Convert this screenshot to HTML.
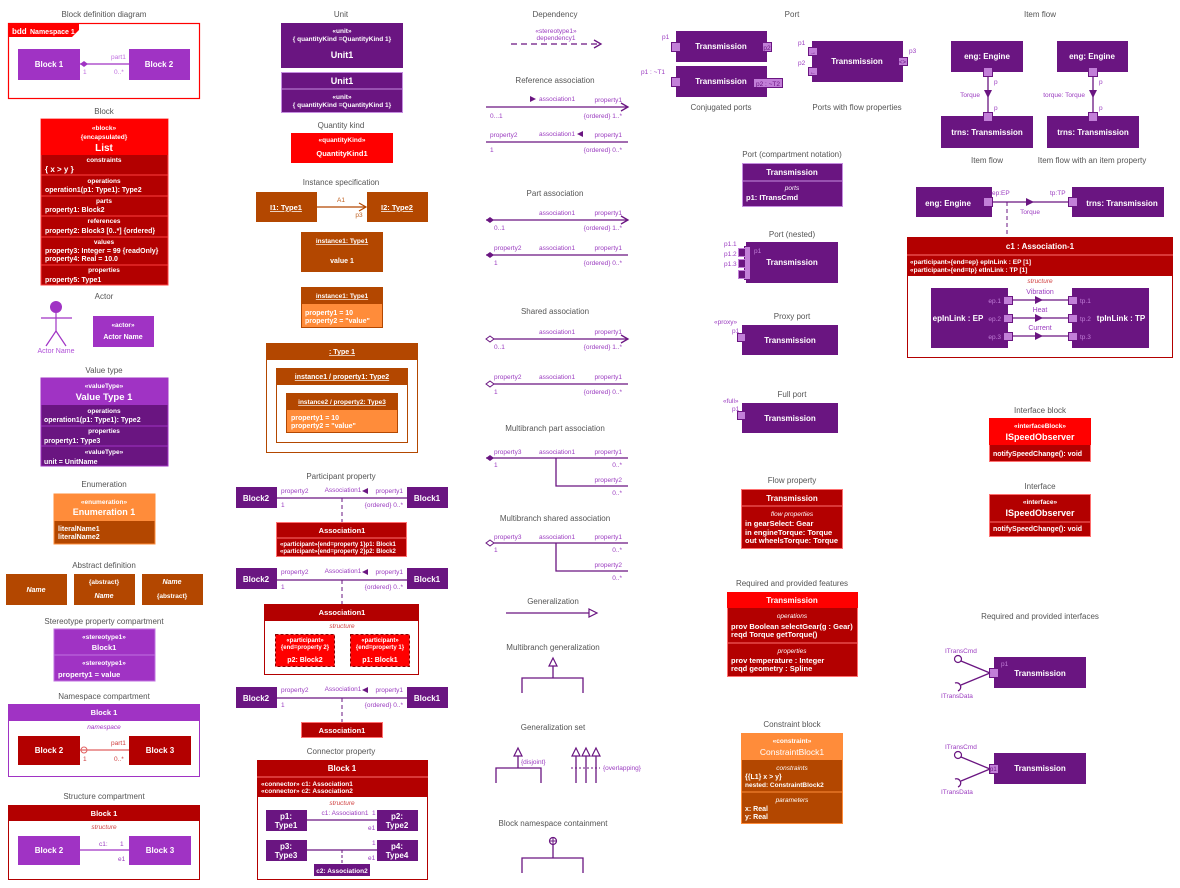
<!DOCTYPE html>
<html><head><meta charset="utf-8"><style>
html,body{margin:0;padding:0;background:#fff;width:1180px;height:888px;overflow:hidden}
svg{display:block}
text{font-family:"Liberation Sans",sans-serif}
.t{font-size:8px;fill:#555;text-anchor:middle}
.w{font-size:8px;fill:#fff;text-anchor:middle;font-weight:bold}
.wl{font-size:8px;fill:#fff;font-weight:bold}
.ws{font-size:6.5px;fill:#fff;text-anchor:middle;font-weight:bold}
.wi{font-size:6.5px;fill:#fff;text-anchor:middle;font-style:italic}
.ri{font-size:6.5px;fill:#d04040;text-anchor:middle;font-style:italic}
.l{font-size:6.5px;fill:#9b3cc0}
.lr{font-size:6.5px;fill:#9b3cc0;text-anchor:end}
.lm{font-size:6.5px;fill:#9b3cc0;text-anchor:middle}
.u{text-decoration:underline}
.ln{stroke:#6a1581;stroke-width:1.3;fill:none}
</style></head><body>
<svg width="1180" height="888" viewBox="0 0 1180 888" xmlns="http://www.w3.org/2000/svg">
<!-- ===== Column 1 ===== -->
<text class="t" x="104" y="17">Block definition diagram</text>
<rect x="8.5" y="23.5" width="191" height="75" fill="none" stroke="#f00" stroke-width="1.2"/>
<polygon points="8,23 79,23 79,30 72,37 8,37" fill="#f00"/>
<text class="wl" x="12" y="34">bdd</text><text class="wl" x="30" y="34" style="font-size:7px">Namespace 1</text>
<rect x="18" y="49" width="62" height="31" fill="#a033c4"/><text class="w" x="49" y="67">Block 1</text>
<rect x="129" y="49" width="61" height="31" fill="#a033c4"/><text class="w" x="159" y="67">Block 2</text>
<line x1="80" y1="64" x2="129" y2="64" stroke="#a033c4" stroke-width="1.3"/>
<polygon points="80,64 84,61 88,64 84,67" fill="#a033c4"/>
<text class="l" x="111" y="59" style="fill:#c070e0">part1</text><text class="l" x="83" y="74" style="fill:#c070e0">1</text><text class="l" x="114" y="74" style="fill:#c070e0">0..*</text>

<text class="t" x="104" y="114">Block</text>
<rect x="41" y="119" width="127" height="166" fill="#b30000" stroke="#ff4040"/>
<rect x="41" y="119" width="127" height="36" fill="#f00"/>
<g stroke="#ff4040"><line x1="41" y1="175" x2="168" y2="175"/><line x1="41" y1="196" x2="168" y2="196"/><line x1="41" y1="216" x2="168" y2="216"/><line x1="41" y1="237" x2="168" y2="237"/><line x1="41" y1="265" x2="168" y2="265"/></g>
<text class="ws" x="104" y="130">«block»</text><text class="ws" x="104" y="139">{encapsulated}</text>
<text class="w" x="104" y="151" style="font-size:10px">List</text>
<text class="ws" x="104" y="162">constraints</text><text class="wl" x="45" y="172">{ x &gt; y }</text>
<text class="ws" x="104" y="183">operations</text><text class="wl" x="45" y="192" style="font-size:7px">operation1(p1: Type1): Type2</text>
<text class="ws" x="104" y="203">parts</text><text class="wl" x="45" y="212" style="font-size:7px">property1: Block2</text>
<text class="ws" x="104" y="223">references</text><text class="wl" x="45" y="233" style="font-size:7px">property2: Block3 [0..*] {ordered}</text>
<text class="ws" x="104" y="244">values</text><text class="wl" x="45" y="253" style="font-size:7px">property3: Integer = 99 {readOnly}</text><text class="wl" x="45" y="261" style="font-size:7px">property4: Real = 10.0</text>
<text class="ws" x="104" y="272">properties</text><text class="wl" x="45" y="282" style="font-size:7px">property5: Type1</text>

<text class="t" x="104" y="299">Actor</text>
<circle cx="56" cy="307" r="6" fill="#a033c4"/>
<g stroke="#a033c4" stroke-width="1.2"><line x1="56" y1="313" x2="56" y2="331"/><line x1="41" y1="318" x2="72" y2="318"/><line x1="56" y1="331" x2="46" y2="346"/><line x1="56" y1="331" x2="66" y2="346"/></g>
<text class="lm" x="56" y="353" style="fill:#b050d8;font-size:7px">Actor Name</text>
<rect x="93" y="316" width="61" height="31" fill="#a033c4"/><text class="ws" x="123" y="327">«actor»</text><text class="w" x="123" y="339" style="font-size:7px">Actor Name</text>

<text class="t" x="104" y="373">Value type</text>
<rect x="41" y="378" width="127" height="88" fill="#6a1581" stroke="#a033c4"/>
<rect x="41" y="378" width="127" height="27" fill="#a033c4"/>
<g stroke="#a033c4"><line x1="41" y1="426" x2="168" y2="426"/><line x1="41" y1="446" x2="168" y2="446"/></g>
<text class="ws" x="104" y="388">«valueType»</text><text class="w" x="104" y="400" style="font-size:9.5px">Value Type 1</text>
<text class="ws" x="104" y="413">operations</text><text class="wl" x="44" y="422" style="font-size:7px">operation1(p1: Type1): Type2</text>
<text class="ws" x="104" y="433">properties</text><text class="wl" x="44" y="443" style="font-size:7px">property1: Type3</text>
<text class="ws" x="104" y="454">«valueType»</text><text class="wl" x="44" y="464" style="font-size:7px">unit = UnitName</text>

<text class="t" x="104" y="487">Enumeration</text>
<rect x="54" y="494" width="101" height="50" fill="#b34700" stroke="#ff8c3a"/>
<rect x="54" y="494" width="101" height="27" fill="#ff8c3a"/>
<text class="ws" x="104" y="504">«enumeration»</text><text class="w" x="104" y="515" style="font-size:9px">Enumeration 1</text>
<text class="wl" x="58" y="531" style="font-size:7px">literalName1</text><text class="wl" x="58" y="539" style="font-size:7px">literalName2</text>

<text class="t" x="104" y="568">Abstract definition</text>
<rect x="6" y="574" width="61" height="31" fill="#b34700"/><text class="w" x="36" y="592" style="font-style:italic;font-size:7px">Name</text>
<rect x="74" y="574" width="61" height="31" fill="#b34700"/><text class="ws" x="104" y="584">{abstract}</text><text class="w" x="104" y="598" style="font-style:italic;font-size:7px">Name</text>
<rect x="142" y="574" width="61" height="31" fill="#b34700"/><text class="w" x="172" y="584" style="font-style:italic;font-size:7px">Name</text><text class="ws" x="172" y="598">{abstract}</text>

<text class="t" x="104" y="624">Stereotype property compartment</text>
<rect x="54" y="629" width="101" height="52" fill="#a033c4" stroke="#c070e0"/>
<line x1="54" y1="655" x2="155" y2="655" stroke="#c070e0"/>
<text class="ws" x="104" y="639">«stereotype1»</text><text class="w" x="104" y="650" style="font-size:7.5px">Block1</text>
<text class="ws" x="104" y="665">«stereotype1»</text><text class="wl" x="58" y="677" style="font-size:7.5px">property1 = value</text>

<text class="t" x="104" y="699">Namespace compartment</text>
<rect x="8.5" y="704.5" width="191" height="72" fill="#fff" stroke="#a033c4"/>
<rect x="8" y="704" width="192" height="17" fill="#a033c4"/><text class="w" x="104" y="715" style="font-size:7.5px">Block 1</text>
<text class="wi" x="104" y="729" style="fill:#a033c4">namespace</text>
<rect x="18" y="736" width="62" height="29" fill="#b30000"/><text class="w" x="49" y="753">Block 2</text>
<rect x="129" y="736" width="62" height="29" fill="#b30000"/><text class="w" x="160" y="753">Block 3</text>
<line x1="80" y1="750" x2="129" y2="750" stroke="#e06060" stroke-width="1.2"/>
<circle cx="84" cy="750" r="3" fill="none" stroke="#e06060"/>
<text class="l" x="111" y="745" style="fill:#d04040">part1</text><text class="l" x="83" y="761" style="fill:#d04040">1</text><text class="l" x="114" y="761" style="fill:#d04040">0..*</text>

<text class="t" x="104" y="799">Structure compartment</text>
<rect x="8.5" y="805.5" width="191" height="74" fill="#fff" stroke="#b30000"/>
<rect x="8" y="805" width="192" height="16" fill="#b30000"/><text class="w" x="104" y="816" style="font-size:7.5px">Block 1</text>
<text class="ri" x="104" y="829">structure</text>
<rect x="18" y="836" width="62" height="29" fill="#a033c4"/><text class="w" x="49" y="853">Block 2</text>
<rect x="129" y="836" width="62" height="29" fill="#a033c4"/><text class="w" x="160" y="853">Block 3</text>
<line x1="80" y1="850" x2="129" y2="850" stroke="#a033c4" stroke-width="1.2"/>
<text class="l" x="99" y="846">c1:</text><text class="l" x="120" y="846">1</text><text class="l" x="118" y="861">e1</text>

<!-- ===== Column 2 ===== -->
<text class="t" x="341" y="17">Unit</text>
<rect x="281" y="23" width="122" height="45" fill="#6a1581"/>
<text class="ws" x="342" y="33">«unit»</text><text class="ws" x="342" y="41">{ quantityKind =QuantityKind 1}</text>
<text class="w" x="342" y="58" style="font-size:9px">Unit1</text>
<rect x="281.5" y="72.5" width="121" height="40" fill="#6a1581" stroke="#c58de0"/>
<line x1="281" y1="89" x2="403" y2="89" stroke="#c58de0"/>
<text class="w" x="342" y="84" style="font-size:9px">Unit1</text>
<text class="ws" x="342" y="99">«unit»</text><text class="ws" x="342" y="107">{ quantityKind =QuantityKind 1}</text>

<text class="t" x="341" y="128">Quantity kind</text>
<rect x="291" y="133" width="102" height="30" fill="#f00"/>
<text class="ws" x="342" y="142">«quantityKind»</text><text class="w" x="342" y="156" style="font-size:7.5px">QuantityKind1</text>

<text class="t" x="341" y="185">Instance specification</text>
<rect x="256" y="192" width="61" height="30" fill="#b34700"/><text class="w u" x="286" y="210" style="font-size:7.5px">I1: Type1</text>
<rect x="367" y="192" width="61" height="30" fill="#b34700"/><text class="w u" x="397" y="210" style="font-size:7.5px">I2: Type2</text>
<line x1="317" y1="207" x2="366" y2="207" stroke="#b34700" stroke-width="1.2"/>
<polyline points="359,203 366,207 359,211" fill="none" stroke="#b34700" stroke-width="1.2"/>
<text class="lm" x="341" y="202" style="fill:#c06020">A1</text><text class="lm" x="359" y="217" style="fill:#c06020">p3</text>

<rect x="301" y="232" width="82" height="40" fill="#b34700"/>
<text class="ws u" x="342" y="243">instance1: Type1</text><text class="w" x="342" y="263" style="font-size:7px">value 1</text>
<rect x="301.5" y="287.5" width="81" height="40" fill="#ff8c3a" stroke="#b34700"/>
<rect x="301" y="287" width="82" height="17" fill="#b34700"/>
<text class="ws u" x="342" y="298">instance1: Type1</text>
<text class="wl" x="305" y="315" style="font-size:7px">property1 = 10</text><text class="wl" x="305" y="323" style="font-size:7px">property2 = "value"</text>

<rect x="266.5" y="343.5" width="151" height="109" fill="#fff" stroke="#b34700"/>
<rect x="266" y="343" width="152" height="17" fill="#b34700"/><text class="ws u" x="342" y="354" style="font-size:7px">: Type 1</text>
<rect x="276.5" y="368.5" width="131" height="74" fill="#fff" stroke="#b34700"/>
<rect x="276" y="368" width="132" height="17" fill="#b34700"/><text class="ws u" x="342" y="379" style="font-size:7px">instance1 / property1: Type2</text>
<rect x="286.5" y="393.5" width="111" height="39" fill="#ff8c3a" stroke="#b34700"/>
<rect x="286" y="393" width="112" height="17" fill="#b34700"/><text class="ws u" x="342" y="404">instance2 / property2: Type3</text>
<text class="wl" x="291" y="420" style="font-size:7px">property1 = 10</text><text class="wl" x="291" y="428" style="font-size:7px">property2 = "value"</text>

<text class="t" x="341" y="479">Participant property</text>
<!-- row1 -->
<rect x="236" y="487" width="41" height="21" fill="#6a1581"/><text class="w" x="256" y="501">Block2</text>
<rect x="407" y="487" width="41" height="21" fill="#6a1581"/><text class="w" x="427" y="501">Block1</text>
<line class="ln" x1="277" y1="498" x2="407" y2="498"/>
<text class="l" x="281" y="493">property2</text><text class="l" x="281" y="507">1</text>
<text class="lm" x="343" y="492">Association1</text><polygon points="368,488 368,494 362,491" fill="#6a1581"/>
<text class="lr" x="403" y="493">property1</text><text class="lr" x="403" y="507">{ordered} 0..*</text>
<line x1="342" y1="498" x2="342" y2="522" stroke="#6a1581" stroke-dasharray="4,3"/>
<rect x="276.5" y="522.5" width="130" height="34" fill="#b30000" stroke="#ff7070"/>
<line x1="276" y1="538" x2="407" y2="538" stroke="#ff7070"/>
<text class="w" x="342" y="533" style="font-size:7.5px">Association1</text>
<text class="wl" x="280" y="546" style="font-size:6px">«participant»{end=property 1}p1: Block1</text>
<text class="wl" x="280" y="553" style="font-size:6px">«participant»{end=property 2}p2: Block2</text>
<!-- row2 -->
<rect x="236" y="568" width="41" height="21" fill="#6a1581"/><text class="w" x="256" y="582">Block2</text>
<rect x="407" y="568" width="41" height="21" fill="#6a1581"/><text class="w" x="427" y="582">Block1</text>
<line class="ln" x1="277" y1="580" x2="407" y2="580"/>
<text class="l" x="281" y="574">property2</text><text class="l" x="281" y="589">1</text>
<text class="lm" x="343" y="573">Association1</text><polygon points="368,569 368,575 362,572" fill="#6a1581"/>
<text class="lr" x="403" y="574">property1</text><text class="lr" x="403" y="589">{ordered} 0..*</text>
<line x1="342" y1="580" x2="342" y2="604" stroke="#6a1581" stroke-dasharray="4,3"/>
<rect x="264.5" y="604.5" width="154" height="70" fill="#fff" stroke="#b30000"/>
<rect x="264" y="604" width="155" height="17" fill="#b30000"/><text class="w" x="342" y="615" style="font-size:7.5px">Association1</text>
<text class="ri" x="342" y="628">structure</text>
<rect x="275.5" y="634.5" width="59" height="32" fill="#f00" stroke="#800" stroke-dasharray="3,2"/>
<text class="ws" x="305" y="642" style="font-size:6px">«participant»</text><text class="ws" x="305" y="649" style="font-size:6px">{end=property 2}</text><text class="w" x="305" y="662" style="font-size:7px">p2: Block2</text>
<rect x="350.5" y="634.5" width="59" height="32" fill="#f00" stroke="#800" stroke-dasharray="3,2"/>
<text class="ws" x="380" y="642" style="font-size:6px">«participant»</text><text class="ws" x="380" y="649" style="font-size:6px">{end=property 1}</text><text class="w" x="380" y="662" style="font-size:7px">p1: Block1</text>
<!-- row3 -->
<rect x="236" y="687" width="41" height="21" fill="#6a1581"/><text class="w" x="256" y="701">Block2</text>
<rect x="407" y="687" width="41" height="21" fill="#6a1581"/><text class="w" x="427" y="701">Block1</text>
<line class="ln" x1="277" y1="698" x2="407" y2="698"/>
<text class="l" x="281" y="692">property2</text><text class="l" x="281" y="707">1</text>
<text class="lm" x="343" y="691">Association1</text><polygon points="368,687 368,693 362,690" fill="#6a1581"/>
<text class="lr" x="403" y="692">property1</text><text class="lr" x="403" y="707">{ordered} 0..*</text>
<line x1="342" y1="698" x2="342" y2="722" stroke="#6a1581" stroke-dasharray="4,3"/>
<rect x="301.5" y="722.5" width="81" height="15" fill="#b30000" stroke="#ff7070"/><text class="w" x="342" y="733" style="font-size:7.5px">Association1</text>

<text class="t" x="341" y="754">Connector property</text>
<rect x="257.5" y="760.5" width="170" height="119" fill="#fff" stroke="#b30000"/>
<rect x="257" y="760" width="171" height="37" fill="#b30000"/>
<line x1="257" y1="777" x2="428" y2="777" stroke="#ff7070"/>
<text class="w" x="342" y="771" style="font-size:8px">Block 1</text>
<text class="wl" x="261" y="786" style="font-size:6.5px">«connector» c1: Association1</text>
<text class="wl" x="261" y="793" style="font-size:6.5px">«connector» c2: Association2</text>
<text class="ri" x="342" y="805">structure</text>
<rect x="266" y="810" width="41" height="21" fill="#6a1581"/><text class="w" x="286" y="819">p1:</text><text class="w" x="286" y="828">Type1</text>
<rect x="377" y="810" width="41" height="21" fill="#6a1581"/><text class="w" x="397" y="819">p2:</text><text class="w" x="397" y="828">Type2</text>
<line class="ln" x1="307" y1="820" x2="377" y2="820"/>
<text class="lm" x="345" y="815">c1: Association1</text><text class="l" x="372" y="815">1</text><text class="l" x="368" y="830">e1</text>
<rect x="266" y="840" width="41" height="21" fill="#6a1581"/><text class="w" x="286" y="849">p3:</text><text class="w" x="286" y="858">Type3</text>
<rect x="377" y="840" width="41" height="21" fill="#6a1581"/><text class="w" x="397" y="849">p4:</text><text class="w" x="397" y="858">Type4</text>
<line class="ln" x1="307" y1="850" x2="377" y2="850"/>
<text class="l" x="372" y="845">1</text><text class="l" x="368" y="860">e1</text>
<line x1="342" y1="850" x2="342" y2="864" stroke="#6a1581" stroke-dasharray="3,2"/>
<rect x="314" y="864" width="56" height="12" fill="#6a1581"/><text class="w" x="342" y="873" style="font-size:6.5px">c2: Association2</text>

<!-- ===== Column 3 ===== -->
<text class="t" x="555" y="17">Dependency</text>
<text class="lm" x="556" y="33">«stereotype1»</text><text class="lm" x="556" y="40">dependency1</text>
<line x1="511" y1="44" x2="600" y2="44" stroke="#6a1581" stroke-width="1.2" stroke-dasharray="6,4"/>
<polyline points="594,40 601,44 594,48" class="ln"/>

<text class="t" x="555" y="83">Reference association</text>
<line class="ln" x1="486" y1="107" x2="628" y2="107"/><polyline class="ln" points="621,103 628,107 621,111"/>
<polygon points="530,96 530,102 536,99" fill="#6a1581"/><text class="l" x="539" y="101">association1</text>
<text class="lr" x="622" y="102">property1</text><text class="l" x="490" y="118">0...1</text><text class="lr" x="622" y="118">{ordered} 1..*</text>
<line class="ln" x1="486" y1="142" x2="628" y2="142"/>
<text class="l" x="490" y="137">property2</text><text class="l" x="539" y="136">association1</text><polygon points="583,131 583,137 577,134" fill="#6a1581"/>
<text class="lr" x="622" y="137">property1</text><text class="l" x="490" y="152">1</text><text class="lr" x="622" y="152">{ordered} 0..*</text>

<text class="t" x="555" y="196">Part association</text>
<line class="ln" x1="486" y1="220" x2="628" y2="220"/><polyline class="ln" points="621,216 628,220 621,224"/>
<polygon points="486,220 490,217 494,220 490,223" fill="#6a1581"/>
<text class="l" x="539" y="215">association1</text><text class="lr" x="622" y="215">property1</text>
<text class="l" x="494" y="230">0..1</text><text class="lr" x="622" y="230">{ordered} 1..*</text>
<line class="ln" x1="486" y1="255" x2="628" y2="255"/>
<polygon points="486,255 490,252 494,255 490,258" fill="#6a1581"/>
<text class="l" x="494" y="250">property2</text><text class="l" x="539" y="250">association1</text><text class="lr" x="622" y="250">property1</text>
<text class="l" x="494" y="265">1</text><text class="lr" x="622" y="265">{ordered} 0..*</text>

<text class="t" x="555" y="314">Shared association</text>
<line class="ln" x1="494" y1="339" x2="628" y2="339"/><polyline class="ln" points="621,335 628,339 621,343"/>
<polygon points="486,339 490,336 494,339 490,342" fill="#fff" stroke="#6a1581"/>
<text class="l" x="539" y="334">association1</text><text class="lr" x="622" y="334">property1</text>
<text class="l" x="494" y="349">0..1</text><text class="lr" x="622" y="349">{ordered} 1..*</text>
<line class="ln" x1="494" y1="384" x2="628" y2="384"/>
<polygon points="486,384 490,381 494,384 490,387" fill="#fff" stroke="#6a1581"/>
<text class="l" x="494" y="379">property2</text><text class="l" x="539" y="379">association1</text><text class="lr" x="622" y="379">property1</text>
<text class="l" x="494" y="394">1</text><text class="lr" x="622" y="394">{ordered} 0..*</text>

<text class="t" x="555" y="431">Multibranch part association</text>
<line class="ln" x1="486" y1="458" x2="628" y2="458"/>
<polyline class="ln" points="556,458 556,486 628,486"/>
<polygon points="486,458 490,455 494,458 490,461" fill="#6a1581"/>
<text class="l" x="494" y="454">property3</text><text class="l" x="539" y="454">association1</text><text class="lr" x="622" y="454">property1</text>
<text class="l" x="494" y="467">1</text><text class="lr" x="622" y="467">0..*</text>
<text class="lr" x="622" y="482">property2</text><text class="lr" x="622" y="495">0..*</text>

<text class="t" x="555" y="521">Multibranch shared association</text>
<line class="ln" x1="494" y1="543" x2="628" y2="543"/>
<polyline class="ln" points="556,543 556,571 628,571"/>
<polygon points="486,543 490,540 494,543 490,546" fill="#fff" stroke="#6a1581"/>
<text class="l" x="494" y="539">property3</text><text class="l" x="539" y="539">association1</text><text class="lr" x="622" y="539">property1</text>
<text class="l" x="494" y="552">1</text><text class="lr" x="622" y="552">0..*</text>
<text class="lr" x="622" y="567">property2</text><text class="lr" x="622" y="580">0..*</text>

<text class="t" x="553" y="604">Generalization</text>
<line class="ln" x1="506" y1="613" x2="589" y2="613"/><polygon points="589,609 597,613 589,617" fill="#fff" stroke="#6a1581" stroke-width="1.2"/>

<text class="t" x="553" y="650">Multibranch generalization</text>
<polygon points="553,658 557,666 549,666" fill="#fff" stroke="#6a1581" stroke-width="1.2"/>
<polyline class="ln" points="553,666 553,678"/><polyline class="ln" points="522,693 522,678 583,678 583,693"/>

<text class="t" x="553" y="730">Generalization set</text>
<polygon points="518,748 522,756 514,756" fill="#fff" stroke="#6a1581" stroke-width="1.2"/>
<polyline class="ln" points="518,756 518,768"/><polyline class="ln" points="496,783 496,768 541,768 541,783"/>
<text class="l" x="521" y="764">{disjoint}</text>
<polygon points="576,748 580,756 572,756" fill="#fff" stroke="#6a1581" stroke-width="1.2"/>
<polygon points="586,748 590,756 582,756" fill="#fff" stroke="#6a1581" stroke-width="1.2"/>
<polygon points="596,748 600,756 592,756" fill="#fff" stroke="#6a1581" stroke-width="1.2"/>
<line class="ln" x1="576" y1="756" x2="576" y2="783"/><line class="ln" x1="586" y1="756" x2="586" y2="783"/><line class="ln" x1="596" y1="756" x2="596" y2="783"/>
<line x1="571" y1="768" x2="600" y2="768" stroke="#6a1581" stroke-dasharray="2,2"/>
<text class="l" x="603" y="770">{overlapping}</text>

<text class="t" x="553" y="826">Block namespace containment</text>
<circle cx="553" cy="841" r="3.5" fill="#fff" stroke="#6a1581" stroke-width="1.2"/>
<line x1="549.5" y1="841" x2="556.5" y2="841" stroke="#6a1581"/><line x1="553" y1="837.5" x2="553" y2="844.5" stroke="#6a1581"/>
<line class="ln" x1="553" y1="844.5" x2="553" y2="858"/><polyline class="ln" points="522,873 522,858 583,858 583,873"/>

<!-- ===== Column 4 (ports) ===== -->
<text class="t" x="792" y="17">Port</text>
<rect x="676" y="31" width="91" height="31" fill="#6a1581"/><text class="w" x="721" y="49">Transmission</text>
<rect x="671.5" y="42.5" width="9" height="9" fill="#c27fd8" stroke="#6a1581"/>
<rect x="762.5" y="42.5" width="9" height="9" fill="#c27fd8" stroke="#6a1581"/><text class="lm" x="767" y="50" style="fill:#6a1581">p2</text>
<text class="l" x="662" y="39">p1</text>
<rect x="676" y="66" width="91" height="31" fill="#6a1581"/><text class="w" x="721" y="84">Transmission</text>
<rect x="671.5" y="77.5" width="9" height="9" fill="#c27fd8" stroke="#6a1581"/>
<rect x="753.5" y="78.5" width="29" height="9" fill="#c27fd8" stroke="#6a1581"/><text class="lm" x="768" y="86" style="fill:#6a1581">p2 : ~T2</text>
<text class="l" x="641" y="74">p1 : ~T1</text>
<text class="t" x="721" y="110">Conjugated ports</text>
<rect x="812" y="41" width="91" height="41" fill="#6a1581"/><text class="w" x="857" y="64">Transmission</text>
<rect x="808.5" y="47.5" width="9" height="8" fill="#c27fd8" stroke="#6a1581"/><text class="l" x="810" y="54" style="fill:#6a1581;font-size:6px">→</text>
<rect x="808.5" y="67.5" width="9" height="8" fill="#c27fd8" stroke="#6a1581"/><text class="l" x="810" y="74" style="fill:#6a1581;font-size:6px">←</text>
<rect x="898.5" y="57.5" width="9" height="8" fill="#c27fd8" stroke="#6a1581"/><text class="l" x="899" y="64" style="fill:#6a1581;font-size:6px">&lt;&gt;</text>
<text class="l" x="798" y="45">p1</text><text class="l" x="798" y="65">p2</text><text class="l" x="909" y="53">p3</text>
<text class="t" x="857" y="110">Ports with flow properties</text>

<text class="t" x="792" y="157">Port (compartment notation)</text>
<rect x="742.5" y="163.5" width="100" height="43" fill="#6a1581" stroke="#c58de0"/>
<line x1="742" y1="181" x2="843" y2="181" stroke="#c58de0"/>
<text class="w" x="792" y="175">Transmission</text><text class="wi" x="792" y="190">ports</text>
<text class="wl" x="746" y="200" style="font-size:7.5px">p1: ITransCmd</text>

<text class="t" x="792" y="237">Port (nested)</text>
<rect x="746" y="242" width="92" height="41" fill="#6a1581"/><text class="w" x="792" y="265">Transmission</text>
<rect x="744.5" y="246.5" width="6" height="33" fill="#c27fd8" stroke="#6a1581"/>
<rect x="738.5" y="248.5" width="7" height="8" fill="#6a1581" stroke="#c27fd8"/>
<rect x="738.5" y="259.5" width="7" height="8" fill="#6a1581" stroke="#c27fd8"/>
<rect x="738.5" y="270.5" width="7" height="8" fill="#6a1581" stroke="#c27fd8"/>
<text class="l" x="724" y="246">p1.1</text><text class="l" x="724" y="256">p1.2</text><text class="l" x="724" y="266">p1.3</text>
<text class="l" x="754" y="253" style="fill:#c27fd8">p1</text>

<text class="t" x="792" y="319">Proxy port</text>
<rect x="742" y="325" width="96" height="30" fill="#6a1581"/><text class="w" x="790" y="343">Transmission</text>
<rect x="737.5" y="333.5" width="8" height="8" fill="#c27fd8" stroke="#6a1581"/>
<text class="l" x="714" y="324">«proxy»</text><text class="l" x="732" y="333">p1</text>

<text class="t" x="792" y="397">Full port</text>
<rect x="742" y="403" width="96" height="30" fill="#6a1581"/><text class="w" x="790" y="421">Transmission</text>
<rect x="737.5" y="411.5" width="8" height="8" fill="#c27fd8" stroke="#6a1581"/>
<text class="l" x="723" y="403">«full»</text><text class="l" x="732" y="411">p1</text>

<text class="t" x="792" y="483">Flow property</text>
<rect x="741.5" y="489.5" width="101" height="59" fill="#b30000" stroke="#ff7070"/>
<line x1="741" y1="506" x2="843" y2="506" stroke="#ff7070"/>
<text class="w" x="792" y="501">Transmission</text><text class="wi" x="792" y="516">flow properties</text>
<text class="wl" x="745" y="526" style="font-size:7.5px">in gearSelect: Gear</text>
<text class="wl" x="745" y="535" style="font-size:7.5px">in engineTorque: Torque</text>
<text class="wl" x="745" y="543" style="font-size:7.5px">out wheelsTorque: Torque</text>

<text class="t" x="792" y="586">Required and provided features</text>
<rect x="727.5" y="592.5" width="130" height="84" fill="#b30000" stroke="#ff7070"/>
<rect x="727" y="592" width="131" height="16" fill="#f00"/>
<line x1="727" y1="643" x2="858" y2="643" stroke="#ff7070"/>
<text class="w" x="792" y="603">Transmission</text>
<text class="wi" x="792" y="618">operations</text>
<text class="wl" x="731" y="629" style="font-size:7.5px">prov Boolean selectGear(g : Gear)</text>
<text class="wl" x="731" y="637" style="font-size:7.5px">reqd Torque getTorque()</text>
<text class="wi" x="792" y="653">properties</text>
<text class="wl" x="731" y="663" style="font-size:7.5px">prov temperature : Integer</text>
<text class="wl" x="731" y="671" style="font-size:7.5px">reqd geometry : Spline</text>

<text class="t" x="792" y="727">Constraint block</text>
<rect x="741.5" y="733.5" width="101" height="90" fill="#b34700" stroke="#ff8c3a"/>
<rect x="741" y="733" width="102" height="27" fill="#ff8c3a"/>
<line x1="741" y1="792" x2="843" y2="792" stroke="#ff8c3a"/>
<text class="ws" x="792" y="743">«constraint»</text><text class="w" x="792" y="755" style="font-size:8.5px;font-weight:normal">ConstraintBlock1</text>
<text class="wi" x="792" y="770">constraints</text>
<text class="wl" x="745" y="779" style="font-size:7px">{{L1} x &gt; y}</text><text class="wl" x="745" y="787" style="font-size:6.5px">nested: ConstraintBlock2</text>
<text class="wi" x="792" y="802">parameters</text>
<text class="wl" x="745" y="811" style="font-size:7px">x: Real</text><text class="wl" x="745" y="819" style="font-size:7px">y: Real</text>

<!-- ===== Column 5 ===== -->
<text class="t" x="1040" y="17">Item flow</text>
<rect x="951" y="41" width="72" height="31" fill="#6a1581"/><text class="w" x="987" y="59">eng: Engine</text>
<rect x="983.5" y="67.5" width="9" height="9" fill="#c27fd8" stroke="#6a1581"/>
<rect x="941" y="116" width="92" height="32" fill="#6a1581"/><text class="w" x="987" y="135">trns: Transmission</text>
<rect x="983.5" y="112.5" width="9" height="9" fill="#c27fd8" stroke="#6a1581"/>
<line class="ln" x1="988" y1="76" x2="988" y2="112"/><polygon points="984,90 992,90 988,98" fill="#6a1581"/>
<text class="lr" x="980" y="97">Torque</text><text class="l" x="994" y="84">p</text><text class="l" x="994" y="110">p</text>
<rect x="1057" y="41" width="71" height="31" fill="#6a1581"/><text class="w" x="1092" y="59">eng: Engine</text>
<rect x="1088.5" y="67.5" width="9" height="9" fill="#c27fd8" stroke="#6a1581"/>
<rect x="1047" y="116" width="92" height="32" fill="#6a1581"/><text class="w" x="1093" y="135">trns: Transmission</text>
<rect x="1088.5" y="112.5" width="9" height="9" fill="#c27fd8" stroke="#6a1581"/>
<line class="ln" x1="1093" y1="76" x2="1093" y2="112"/><polygon points="1089,90 1097,90 1093,98" fill="#6a1581"/>
<text class="lr" x="1085" y="97">torque: Torque</text><text class="l" x="1099" y="84">p</text><text class="l" x="1099" y="110">p</text>
<text class="t" x="987" y="163">Item flow</text><text class="t" x="1092" y="163">Item flow with an item property</text>

<rect x="916" y="187" width="76" height="30" fill="#6a1581"/><text class="w" x="948" y="206">eng: Engine</text>
<rect x="983.5" y="197.5" width="9" height="9" fill="#c27fd8" stroke="#6a1581"/>
<rect x="1072" y="187" width="92" height="30" fill="#6a1581"/><text class="w" x="1122" y="206">trns: Transmission</text>
<rect x="1068.5" y="197.5" width="9" height="9" fill="#c27fd8" stroke="#6a1581"/>
<line class="ln" x1="992" y1="202" x2="1068" y2="202"/><polygon points="1026,198 1026,206 1034,202" fill="#6a1581"/>
<text class="l" x="992" y="195">ep:EP</text><text class="l" x="1050" y="195">tp:TP</text><text class="lm" x="1030" y="214">Torque</text>
<line x1="1007" y1="202" x2="1007" y2="237" stroke="#6a1581" stroke-dasharray="4,3"/>
<rect x="907.5" y="237.5" width="265" height="120" fill="#fff" stroke="#b30000"/>
<rect x="907" y="237" width="266" height="39" fill="#b30000"/>
<line x1="907" y1="255" x2="1173" y2="255" stroke="#ff7070"/>
<text class="w" x="1040" y="249">c1 : Association-1</text>
<text class="wl" x="910" y="264" style="font-size:6.5px">«participant»{end=ep} epInLink : EP [1]</text>
<text class="wl" x="910" y="272" style="font-size:6.5px">«participant»{end=tp} etInLink : TP [1]</text>
<text class="ri" x="1040" y="283">structure</text>
<rect x="931" y="288" width="77" height="60" fill="#6a1581"/><text class="w" x="958" y="321">epInLink : EP</text>
<rect x="1072" y="288" width="77" height="60" fill="#6a1581"/><text class="w" x="1121" y="321">tpInLink : TP</text>
<g>
<rect x="1003.5" y="296.5" width="9" height="8" fill="#c27fd8" stroke="#6a1581"/><rect x="1068.5" y="296.5" width="9" height="8" fill="#c27fd8" stroke="#6a1581"/>
<line class="ln" x1="1012" y1="300" x2="1068" y2="300"/><polygon points="1035,296 1035,304 1043,300" fill="#6a1581"/>
<rect x="1003.5" y="314.5" width="9" height="8" fill="#c27fd8" stroke="#6a1581"/><rect x="1068.5" y="314.5" width="9" height="8" fill="#c27fd8" stroke="#6a1581"/>
<line class="ln" x1="1012" y1="318" x2="1068" y2="318"/><polygon points="1035,314 1035,322 1043,318" fill="#6a1581"/>
<rect x="1003.5" y="332.5" width="9" height="8" fill="#c27fd8" stroke="#6a1581"/><rect x="1068.5" y="332.5" width="9" height="8" fill="#c27fd8" stroke="#6a1581"/>
<line class="ln" x1="1012" y1="336" x2="1068" y2="336"/><polygon points="1035,332 1035,340 1043,336" fill="#6a1581"/>
</g>
<text class="lr" x="1001" y="303" style="fill:#c27fd8">ep.1</text><text class="lr" x="1001" y="321" style="fill:#c27fd8">ep.2</text><text class="lr" x="1001" y="339" style="fill:#c27fd8">ep.3</text>
<text class="l" x="1080" y="303" style="fill:#c27fd8">tp.1</text><text class="l" x="1080" y="321" style="fill:#c27fd8">tp.2</text><text class="l" x="1080" y="339" style="fill:#c27fd8">tp.3</text>
<text class="lm" x="1040" y="294" style="font-size:7px">Vibration</text><text class="lm" x="1040" y="312" style="font-size:7px">Heat</text><text class="lm" x="1040" y="330" style="font-size:7px">Current</text>

<text class="t" x="1040" y="413">Interface block</text>
<rect x="989.5" y="418.5" width="101" height="43" fill="#b30000" stroke="#ff7070"/>
<rect x="989" y="418" width="102" height="27" fill="#f00"/>
<text class="ws" x="1040" y="428">«interfaceBlock»</text><text class="w" x="1040" y="440" style="font-size:9px">ISpeedObserver</text>
<text class="wl" x="993" y="456" style="font-size:7px">notifySpeedChange(): void</text>
<text class="t" x="1040" y="489">Interface</text>
<rect x="989.5" y="494.5" width="101" height="42" fill="#b30000" stroke="#ff7070"/>
<line x1="989" y1="522" x2="1091" y2="522" stroke="#ff7070"/>
<text class="ws" x="1040" y="504">«interface»</text><text class="w" x="1040" y="516" style="font-size:9px">ISpeedObserver</text>
<text class="wl" x="993" y="531" style="font-size:7px">notifySpeedChange(): void</text>

<text class="t" x="1040" y="619">Required and provided interfaces</text>
<rect x="994" y="657" width="92" height="31" fill="#6a1581"/><text class="w" x="1040" y="676">Transmission</text>
<rect x="989.5" y="668.5" width="9" height="9" fill="#c27fd8" stroke="#6a1581"/>
<text class="l" x="1001" y="666" style="fill:#c27fd8">p1</text>
<circle cx="958" cy="659" r="3.5" fill="#fff" stroke="#6a1581" stroke-width="1.2"/>
<line class="ln" x1="961" y1="661" x2="990" y2="673"/><line class="ln" x1="990" y1="673" x2="961" y2="685"/>
<path d="M955,683 A4,4 0 0 1 958,691" class="ln"/>
<text class="l" x="945" y="653">ITransCmd</text><text class="l" x="941" y="698">ITransData</text>
<rect x="994" y="753" width="92" height="31" fill="#6a1581"/><text class="w" x="1040" y="771">Transmission</text>
<rect x="989.5" y="764.5" width="9" height="9" fill="#c27fd8" stroke="#6a1581"/><text class="l" x="990" y="771" style="fill:#6a1581;font-size:6px">p1</text>
<circle cx="958" cy="755" r="3.5" fill="#fff" stroke="#6a1581" stroke-width="1.2"/>
<line class="ln" x1="961" y1="757" x2="990" y2="769"/><line class="ln" x1="990" y1="769" x2="961" y2="781"/>
<path d="M955,779 A4,4 0 0 1 958,787" class="ln"/>
<text class="l" x="945" y="749">ITransCmd</text><text class="l" x="941" y="794">ITransData</text>
</svg>
</body></html>
